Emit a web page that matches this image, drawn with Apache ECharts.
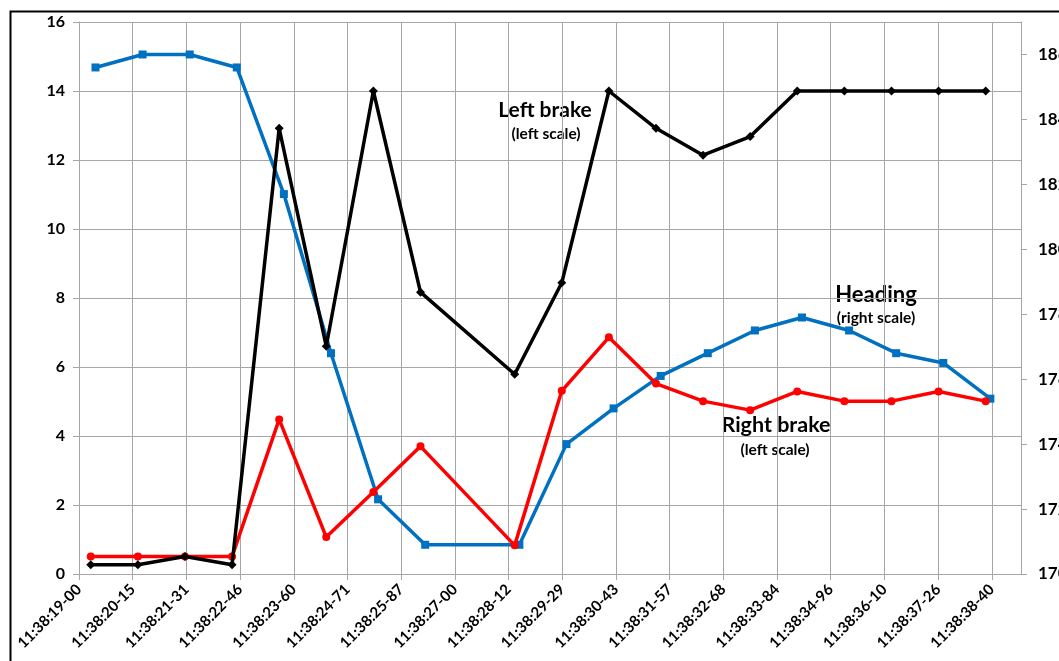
<!DOCTYPE html>
<html>
<head>
<meta charset="utf-8">
<script src="https://cdn.jsdelivr.net/npm/echarts@6/dist/echarts.min.js"></script>
<style>
html,body{margin:0;padding:0;background:#fff;}
#chart{width:1059px;height:661px;}
</style>
</head>
<body>
<div id="chart"></div>
<script>
// Tick labels of the time axis (time of day)
var tickLabels = ['11:38:19-00','11:38:20-15','11:38:21-31','11:38:22-46','11:38:23-60','11:38:24-71',
  '11:38:25-87','11:38:27-00','11:38:28-12','11:38:29-29','11:38:30-43','11:38:31-57','11:38:32-68',
  '11:38:33-84','11:38:34-96','11:38:36-10','11:38:37-26','11:38:38-40'];
// x values: seconds after 11:38:19.00
var brakeTimes = [0.25,1.25,2.25,3.25,4.25,5.25,6.25,7.25,9.25,10.25,11.25,12.25,13.25,14.25,15.25,16.25,17.25,18.25,19.25];
var headingTimes = [0.35,1.35,2.35,3.35,4.35,5.35,6.35,7.35,9.35,10.35,11.35,12.35,13.35,14.35,15.35,16.35,17.35,18.35,19.35];
// Left brake (left scale)
var leftBrake = [0.27,0.27,0.51,0.27,12.92,6.6,14.0,8.17,5.79,8.44,14.0,12.92,12.14,12.68,14.0,14.0,14.0,14.0,14.0];
// Right brake (left scale)
var rightBrake = [0.51,0.51,0.51,0.51,4.48,1.07,2.38,3.70,0.83,5.31,6.86,5.52,5.01,4.75,5.29,5.01,5.01,5.29,5.01];
// Heading (right scale)
var heading = [185.6,186.0,186.0,185.6,181.7,176.8,172.3,170.9,170.9,174.0,175.1,176.1,176.8,177.5,177.9,177.5,176.8,176.5,175.4];

var TICK = 1.14;
function pairs(xs, ys){ return xs.map(function(x,i){ return [x, ys[i]]; }); }

var FONT = 'Lato';
var chart = echarts.init(document.getElementById('chart'), null, {renderer:'canvas'});
var gridColor = '#a6a6a6';
chart.setOption({
  animation:false,
  backgroundColor:'#ffffff',
  grid:{left:79, right:38, top:22, bottom:87, containLabel:false, outerBoundsMode:'none'},
  xAxis:{
    type:'value', min:0, max:20, interval:TICK,
    axisLine:{show:true, lineStyle:{color:gridColor, width:1}},
    axisTick:{show:true, length:6, lineStyle:{color:gridColor}},
    splitLine:{show:true, lineStyle:{color:gridColor, width:1}},
    axisLabel:{
      rotate:45, margin:13, color:'#000', fontFamily:FONT, fontWeight:'bold', fontSize:15,
      showMaxLabel:false,
      formatter:function(v){ var i=Math.round(v/TICK); return tickLabels[i] || ''; }
    }
  },
  yAxis:[
    {type:'value', min:0, max:16, interval:2, position:'left',
     axisLine:{show:true, lineStyle:{color:gridColor}},
     axisTick:{show:true, length:6, lineStyle:{color:gridColor}},
     splitLine:{show:true, lineStyle:{color:gridColor, width:1}},
     axisLabel:{color:'#000', fontFamily:FONT, fontWeight:'bold', fontSize:16, margin:14}},
    {type:'value', min:170, max:187, interval:2, position:'right',
     axisLine:{show:true, lineStyle:{color:gridColor}},
     axisTick:{show:true, length:6, lineStyle:{color:gridColor}},
     splitLine:{show:false},
     axisLabel:{color:'#000', fontFamily:FONT, fontWeight:'bold', fontSize:17, margin:17, showMaxLabel:false}}
  ],
  series:[
    {name:'Heading', type:'line', yAxisIndex:1, data:pairs(headingTimes, heading),
     symbol:'rect', symbolSize:8, lineStyle:{color:'#0070c0', width:3.5}, itemStyle:{color:'#0070c0'}, z:2},
    {name:'Right brake', type:'line', yAxisIndex:0, data:pairs(brakeTimes, rightBrake),
     symbol:'circle', symbolSize:8, lineStyle:{color:'#ff0000', width:3.5}, itemStyle:{color:'#ff0000'}, z:3},
    {name:'Left brake', type:'line', yAxisIndex:0, data:pairs(brakeTimes, leftBrake),
     symbol:'diamond', symbolSize:9, lineStyle:{color:'#000000', width:3.5}, itemStyle:{color:'#000000'}, z:4}
  ],
  graphic:[
    {type:'rect', left:8, top:9, shape:{width:1100, height:700}, style:{fill:null, stroke:'#000', lineWidth:2}, silent:true},
    {type:'text', x:545, y:110, style:{text:'Left brake', font:'bold 21px '+FONT, fill:'#000', align:'center', verticalAlign:'middle'}},
    {type:'text', x:546, y:134, style:{text:'(left scale)', font:'bold 15.5px '+FONT, fill:'#000', align:'center', verticalAlign:'middle'}},
    {type:'text', x:876, y:295, style:{text:'Heading', font:'bold 22px '+FONT, fill:'#000', align:'center', verticalAlign:'middle'}},
    {type:'text', x:876, y:318, style:{text:'(right scale)', font:'bold 15.5px '+FONT, fill:'#000', align:'center', verticalAlign:'middle'}},
    {type:'text', x:776, y:425, style:{text:'Right brake', font:'bold 21.5px '+FONT, fill:'#000', align:'center', verticalAlign:'middle'}},
    {type:'text', x:775, y:450, style:{text:'(left scale)', font:'bold 15.5px '+FONT, fill:'#000', align:'center', verticalAlign:'middle'}}
  ]
});
</script>
</body>
</html>
